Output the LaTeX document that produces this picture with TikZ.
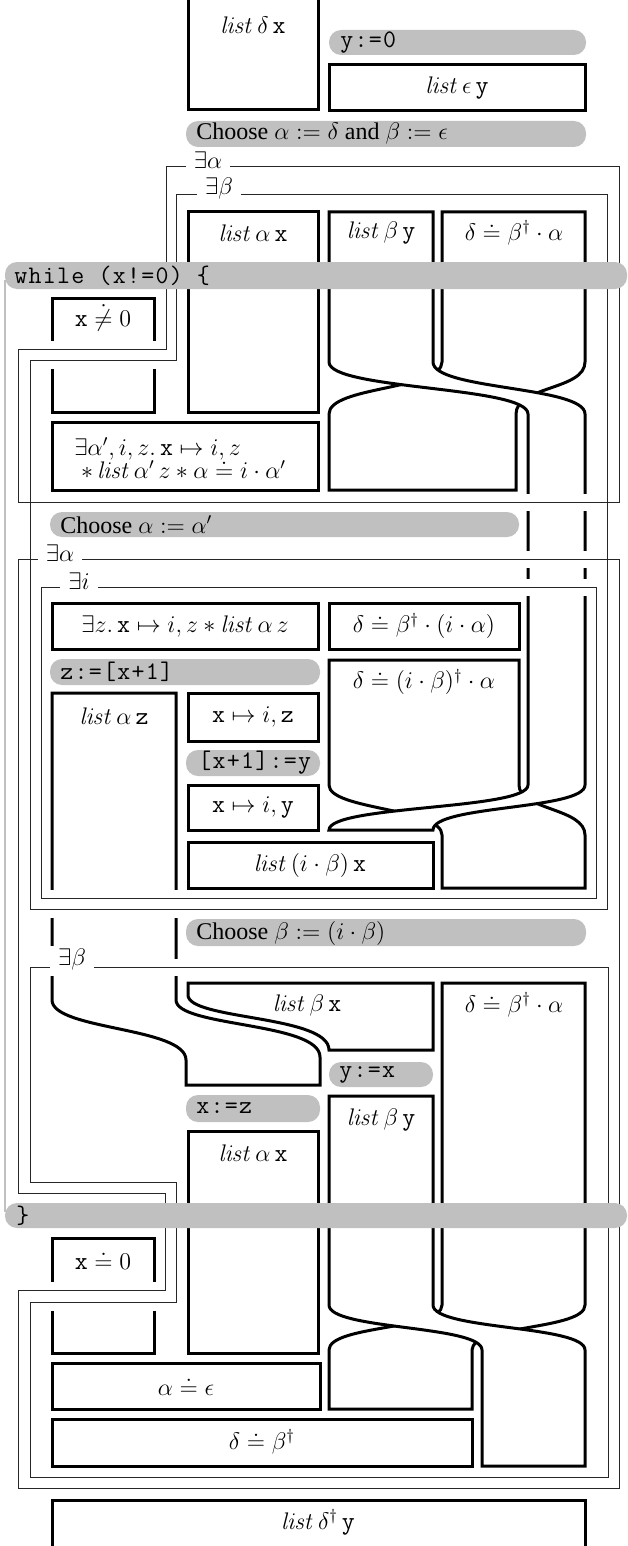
\documentclass[tikz,border=0pt,12pt]{standalone}
\usepackage{amsmath,amssymb}
\usepackage[no-math]{fontspec}
\setmainfont{Liberation Serif}
\setmonofont{Latin Modern Mono}[Scale=1.05, LetterSpace=5]
\usepackage{tikz}
\definecolor{cmdgray}{RGB}{192,192,192}
\newcommand{\lst}{\mathit{list}\,}
\newcommand{\tv}[1]{\text{\ttfamily #1}}
\newcommand{\exAlphaA}{(619,167) -- (166,167) -- (166,349) -- (18,349) -- (18,502) -- (619,502) -- cycle}
\newcommand{\exBetaA}{(607,195) -- (176,195) -- (176,360) -- (30,360) -- (30,909) -- (607,909) -- cycle}
\newcommand{\exAlphaB}{(619,559) -- (18,559) -- (18,1193) -- (165,1193) -- (165,1290) -- (18,1290) -- (18,1488) -- (619,1488) -- cycle}
\newcommand{\exIota}{(41,587) rectangle (596,898)}
\newcommand{\exBetaB}{(608,967) -- (30,967) -- (30,1182) -- (176,1182) -- (176,1302) -- (30,1302) -- (30,1477) -- (608,1477) -- cycle}

\begin{document}
\begin{tikzpicture}[x=0.5pt, y=-0.5pt,
    rib/.style={line width=1.5pt},
    frm/.style={line width=0.5pt, black!85},
    halo/.style={line width=8.5pt, white},
    cmd/.style={fill=cmdgray, rounded corners=6pt},
    loopline/.style={cmdgray, line width=1.2pt},
    exlbl/.style={fill=white, inner xsep=4pt, inner ysep=1pt},
    ctext/.style={anchor=west, inner sep=0pt}
]
    \useasboundingbox (0,0) rectangle (627,1546);

    % ribbons
    \draw[rib] (188,-4) -- (188,110) -- (318,110) -- (318,-4);
    \draw[rib] (329,65) rectangle (585,111);
    \draw[rib] (188,212) rectangle (318,412);
    \draw[rib] (52,298) rectangle (154,412);
    \draw[rib] (52,422) rectangle (318,490);
    \draw[rib] (442,212) -- (442,362) .. controls (442,390) and (329,386) .. (329,414) -- (329,490)
        -- (516,490) -- (516,414) .. controls (516,386) and (585,390) .. (585,362) -- (585,212) -- cycle;
    \draw[rib] (329,603) rectangle (519,649);
    \draw[rib] (329,660) -- (329,785) .. controls (329,810) and (442,808) .. (442,835) -- (442,888)
        -- (585,888) -- (585,835) .. controls (585,808) and (519,810) .. (519,785) -- (519,660) -- cycle;
    \draw[rib, fill=white] (329,212) -- (329,362) .. controls (329,390) and (528,386) .. (528,414)
        -- (528,785) .. controls (528,810) and (329,805) .. (329,830) -- (433,830)
        .. controls (433,805) and (585,810) .. (585,785) -- (585,414)
        .. controls (585,386) and (433,390) .. (433,362) -- (433,212) -- cycle;
    \draw[rib] (52,603) rectangle (318,649);
    \draw[rib] (176,693) -- (52,693) -- (52,1000) .. controls (52,1030) and (186,1027) .. (186,1060)
        -- (186,1085) -- (320,1085) -- (320,1057) .. controls (320,1022) and (176,1027) .. (176,1000) -- cycle;
    \draw[rib] (188,693) rectangle (318,741);
    \draw[rib] (188,785) rectangle (318,830);
    \draw[rib] (188,842) rectangle (433,888);
    \draw[rib] (188,983) -- (433,983) -- (433,1050) -- (329,1050)
        .. controls (329,1015) and (188,1020) .. (188,995) -- cycle;
    \draw[rib] (442,983) -- (442,1305) .. controls (442,1330) and (329,1325) .. (329,1350) -- (329,1409)
        -- (472,1409) -- (472,1350) .. controls (472,1325) and (585,1330) .. (585,1305) -- (585,983) -- cycle;
    \draw[rib, fill=white] (329,1096) -- (329,1305) .. controls (329,1330) and (482,1325) .. (482,1350)
        -- (482,1466) -- (585,1466) -- (585,1350) .. controls (585,1325) and (433,1330) .. (433,1305)
        -- (433,1096) -- cycle;
    \draw[rib] (188,1131) rectangle (318,1353);
    \draw[rib] (52,1238) rectangle (154,1353);
    \draw[rib] (52,1363) rectangle (320,1409);
    \draw[rib] (52,1419) rectangle (472,1466);
    \draw[rib] (52,1550) -- (52,1500) -- (585,1500) -- (585,1550);

    % existential boxes
    \foreach \fr in {\exAlphaA,\exBetaA,\exAlphaB,\exIota,\exBetaB}
        \draw[halo] \fr;
    \foreach \fr in {\exAlphaA,\exBetaA,\exAlphaB,\exIota,\exBetaB}
        \draw[frm] \fr;
    \draw[loopline] (5,280) -- (5,1212);

    % commands
    \fill[cmd] (329,30) rectangle (586,55);
    \node[ctext] (yzero) at (340,43) {\texttt{y:=0}};
    \fill[cmd] (186,121) rectangle (586,147);
    \node[ctext] (choose1) at (196,134) {Choose $\alpha := \delta$ and $\beta := \epsilon$};
    \fill[cmd] (5,262) rectangle (627,289);
    \node[ctext] (while) at (14,276) {\texttt{while (x!=0) \{}};
    \fill[cmd] (50,512) rectangle (519,537);
    \node[ctext] (choose2) at (60,525) {Choose $\alpha := \alpha'$};
    \fill[cmd] (50,659) rectangle (320,685);
    \node[ctext] (zload) at (60,672) {\texttt{z:=[x+1]}};
    \fill[cmd] (186,750) rectangle (320,776);
    \node[ctext] (ystore) at (198,763) {\texttt{[x+1]:=y}};
    \fill[cmd] (186,919) rectangle (586,946);
    \node[ctext] (choose3) at (196,933) {Choose $\beta := (i\cdot\beta)$};
    \fill[cmd] (329,1062) rectangle (433,1087);
    \node[ctext] (yx) at (339,1075) {\texttt{y:=x}};
    \fill[cmd] (186,1095) rectangle (320,1122);
    \node[ctext] (xz) at (196,1108) {\texttt{x:=z}};
    \fill[cmd] (5,1203) rectangle (627,1228);
    \node[ctext] (endwhile) at (16,1216) {\texttt{\}}};

    % existential labels
    \node[exlbl] (lAlphaA) at (208,160) {$\exists\alpha$};
    \node[exlbl] (lBetaA)  at (219,189) {$\exists\beta$};
    \node[exlbl] (lAlphaB) at (60,553)  {$\exists\alpha$};
    \node[exlbl] (lIota)   at (79,581)  {$\exists i$};
    \node[exlbl] (lBetaB)  at (72,959)  {$\exists\beta$};

    % assertions
    \node (ldx)   at (253,25)  {$\lst\delta\,\tv{x}$};
    \node (ley)   at (457,88)  {$\lst\epsilon\,\tv{y}$};
    \node (lax)   at (253,233) {$\lst\alpha\,\tv{x}$};
    \node (lby)   at (381,233) {$\lst\beta\,\tv{y}$};
    \node (dba)   at (514,233) {$\delta\doteq\beta^\dagger\cdot\alpha$};
    \node (xnz)   at (103,318) {$\tv{x}\mathrel{\dot{\neq}}0$};
    \node[align=left, anchor=west] (unf) at (66,458)
        {$\exists\alpha',i,z.\,\tv{x}\mapsto i,z$\\[-3pt]
         $\;{*}\,\lst\alpha'\,z*\alpha\doteq i\cdot\alpha'$};
    \node (exz)   at (185,626) {$\exists z.\,\tv{x}\mapsto i,z*\lst\alpha\,z$};
    \node (dbia)  at (424,626) {$\delta\doteq\beta^\dagger\cdot(i\cdot\alpha)$};
    \node (dibz)  at (424,682) {$\delta\doteq(i\cdot\beta)^\dagger\cdot\alpha$};
    \node (laz)   at (114,716) {$\lst\alpha\,\tv{z}$};
    \node (xiz)   at (253,717) {$\tv{x}\mapsto i,\tv{z}$};
    \node (xiy)   at (253,807) {$\tv{x}\mapsto i,\tv{y}$};
    \node (libx)  at (310,865) {$\lst(i\cdot\beta)\,\tv{x}$};
    \node (lbx)   at (307,1005) {$\lst\beta\,\tv{x}$};
    \node (dba2)  at (514,1005) {$\delta\doteq\beta^\dagger\cdot\alpha$};
    \node (lby2)  at (381,1120) {$\lst\beta\,\tv{y}$};
    \node (lax2)  at (253,1153) {$\lst\alpha\,\tv{x}$};
    \node (xz0)   at (103,1260) {$\tv{x}\doteq 0$};
    \node (ae)    at (186,1386) {$\alpha\doteq\epsilon$};
    \node (db)    at (262,1442) {$\delta\doteq\beta^\dagger$};
    \node (ldy)   at (318,1522) {$\lst\delta^\dagger\,\tv{y}$};
\end{tikzpicture}
\end{document}
